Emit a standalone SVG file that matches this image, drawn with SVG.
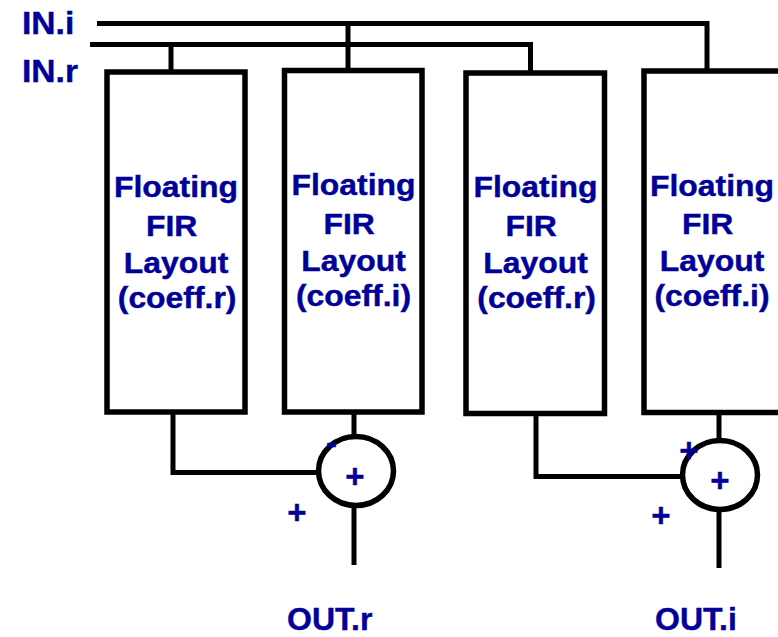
<svg xmlns="http://www.w3.org/2000/svg" width="778" height="637" viewBox="0 0 778 637">
<style>
.box{fill:#fff;stroke:#000;stroke-width:5.5}
.wire{fill:none;stroke:#000;stroke-width:5;stroke-linejoin:miter;stroke-linecap:butt}
.add{fill:#fff;stroke:#000;stroke-width:5.5}
.lbl{font-family:"Liberation Sans",Arial,sans-serif;font-weight:bold;fill:#000099;stroke:#000099;stroke-width:0.4}
.bt{font-size:29px;text-anchor:middle}
.io{font-size:32px}
.sg{font-size:33px;text-anchor:middle}
</style>
<rect width="778" height="637" fill="#fff"/>
<g id="connectors">
<polyline class="wire" points="97,23.5 707,23.5 707,71"/>
<polyline class="wire" points="90,44.5 530.5,44.5 530.5,73"/>
<line class="wire" x1="171" y1="44.5" x2="171" y2="72"/>
<line class="wire" x1="348" y1="23.5" x2="348" y2="70.5"/>
<polyline class="wire" points="173,412 173,472.5 318,472.5"/>
<line class="wire" x1="354" y1="412" x2="354" y2="437"/>
<line class="wire" x1="354" y1="505" x2="354" y2="565"/>
<polyline class="wire" points="536,413.5 536,476.5 682,476.5"/>
<line class="wire" x1="719" y1="412.5" x2="719" y2="441"/>
<line class="wire" x1="719" y1="509" x2="719" y2="568"/>
</g>
<g id="in-labels">
<text class="lbl io" transform="translate(22,34) scale(1.05,1)">IN.i</text>
<text class="lbl io" transform="translate(22,81.5) scale(1.05,1)">IN.r</text>
</g>
<g id="fir1">
<rect class="box" x="107" y="72" width="138" height="340"/>
<text class="lbl bt" transform="translate(176,0) scale(1.1,1)"><tspan x="0" y="197">Floating</tspan><tspan x="-4" y="236">FIR</tspan><tspan x="0" y="273">Layout</tspan><tspan x="1" y="308">(coeff.r)</tspan></text>
</g>
<g id="fir2">
<rect class="box" x="284.5" y="70.5" width="137.5" height="341.5"/>
<text class="lbl bt" transform="translate(353.5,0) scale(1.1,1)"><tspan x="0" y="195">Floating</tspan><tspan x="-4" y="234">FIR</tspan><tspan x="0" y="271.5">Layout</tspan><tspan x="0" y="306.5">(coeff.i)</tspan></text>
</g>
<g id="fir3">
<rect class="box" x="466" y="73" width="138.5" height="340.5"/>
<text class="lbl bt" transform="translate(535.5,0) scale(1.1,1)"><tspan x="0" y="197.5">Floating</tspan><tspan x="-4" y="236">FIR</tspan><tspan x="0" y="273">Layout</tspan><tspan x="1" y="308">(coeff.r)</tspan></text>
</g>
<g id="fir4">
<rect class="box" x="644" y="71" width="138" height="341.5"/>
<text class="lbl bt" transform="translate(712,0) scale(1.1,1)"><tspan x="0" y="196">Floating</tspan><tspan x="-4" y="234.5">FIR</tspan><tspan x="0" y="271.5">Layout</tspan><tspan x="0" y="306.5">(coeff.i)</tspan></text>
</g>
<g id="adder-r">
<ellipse class="add" cx="356" cy="471" rx="37.5" ry="34.5"/>
<text class="lbl sg" x="355" y="487.5">+</text>
<text class="lbl sg" x="331.5" y="454">-</text>
<text class="lbl sg" x="297" y="523.5">+</text>
</g>
<g id="adder-i">
<ellipse class="add" cx="720" cy="475" rx="37.5" ry="34.5"/>
<text class="lbl sg" x="720" y="491.5">+</text>
<text class="lbl sg" x="689" y="461.5">+</text>
<text class="lbl sg" x="661" y="527">+</text>
</g>
<g id="out-labels">
<text class="lbl io" x="287" y="630">OUT.r</text>
<text class="lbl io" x="655" y="630">OUT.i</text>
</g>
</svg>
